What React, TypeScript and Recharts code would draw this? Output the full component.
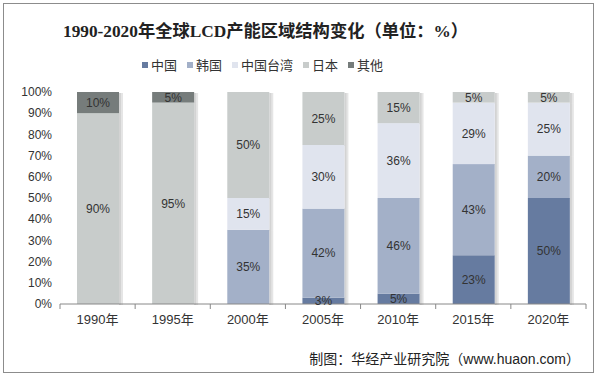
import { BarChart, Bar, XAxis, YAxis, LabelList } from 'recharts';

const years = ['1990年', '1995年', '2000年', '2005年', '2010年', '2015年', '2020年'];
const china = [0, 0, 0, 3, 5, 23, 50];
const korea = [0, 0, 35, 42, 46, 43, 20];
const taiwan = [0, 0, 15, 30, 36, 29, 25];
const japan = [90, 95, 50, 25, 15, 5, 5];
const others = [10, 5, 0, 0, 0, 0, 0];
const yTicks = [0, 0.1, 0.2, 0.3, 0.4, 0.5, 0.6, 0.7, 0.8, 0.9, 1];

const series = [
  { key: 'china', name: '中国', color: '#667ba0' },
  { key: 'korea', name: '韩国', color: '#a3b0c8' },
  { key: 'taiwan', name: '中国台湾', color: '#e0e4ee' },
  { key: 'japan', name: '日本', color: '#c8cccb' },
  { key: 'others', name: '其他', color: '#767c7b' },
];

const data = years.map((year, i) => ({
  year,
  china: china[i],
  korea: korea[i],
  taiwan: taiwan[i],
  japan: japan[i],
  others: others[i],
}));

const font = '"Liberation Sans", Arial, "Noto Sans CJK SC", sans-serif';

// bar segment with a soft shadow on its right side
function ShadowBar(props: any) {
  const { x, y, width, height, fill } = props;
  if (!height || height <= 0) return null;
  return (
    <g>
      <rect x={x + width} y={y + 1} width={4} height={height} fill="#000" opacity={0.1} />
      <rect x={x + width} y={y + 1} width={2} height={height} fill="#000" opacity={0.08} />
      <rect x={x} y={y} width={width} height={height} fill={fill} />
    </g>
  );
}

function XTick(props: any) {
  const { x, y, payload, index } = props;
  const half = payload.offset ?? 37.5;
  return (
    <g>
      <line x1={x - half} x2={x - half} y1={y - 8} y2={y - 3} stroke="#888" />
      {index === years.length - 1 && (
        <line x1={x + half} x2={x + half} y1={y - 8} y2={y - 3} stroke="#888" />
      )}
      <text x={x} y={y + 12} textAnchor="middle" fontSize={13} fill="#333" fontFamily={font}>
        {payload.value}
      </text>
    </g>
  );
}

const pct = (v: any) => (v ? `${v}%` : '');

export default function App() {
  return (
    <div style={{ position: 'absolute', left: 0, top: 0, width: 598, height: 377, background: '#fff' }}>
      <div
        style={{
          position: 'absolute',
          left: 3,
          top: 3,
          width: 589,
          height: 368,
          border: '1px solid #8c8c8c',
        }}
      />
      <div
        style={{
          position: 'absolute',
          left: 63,
          top: 17,
          fontFamily: '"Liberation Serif", "Noto Sans CJK SC", serif',
          fontWeight: 'bold',
          fontSize: 17.3,
          color: '#222',
          whiteSpace: 'nowrap',
        }}
      >
        1990-2020年全球LCD产能区域结构变化（单位：%）
      </div>
      <div
        style={{
          position: 'absolute',
          left: 142,
          top: 55,
          display: 'flex',
          fontFamily: font,
          fontSize: 13,
          color: '#333',
          whiteSpace: 'nowrap',
        }}
      >
        {series.map((s) => (
          <div key={s.key} style={{ display: 'flex', alignItems: 'center', marginRight: 10 }}>
            <span style={{ width: 6, height: 6, background: s.color, marginRight: 3, display: 'inline-block' }} />
            <span>{s.name}</span>
          </div>
        ))}
      </div>
      <BarChart
        width={598}
        height={377}
        data={data}
        stackOffset="expand"
        margin={{ top: 92, right: 12, bottom: 43, left: 0 }}
        style={{ position: 'absolute', left: 0, top: 0 }}
      >
        <XAxis
          dataKey="year"
          stroke="#888"
          tickLine={false}
          tick={<XTick />}
          height={30}
        />
        <YAxis
          domain={[0, 1]}
          ticks={yTicks}
          tickFormatter={(v: number) => `${Math.round(v * 100)}%`}
          axisLine={false}
          tickLine={false}
          width={60}
          tick={{ fontSize: 12, fill: '#333', fontFamily: font }}
          interval={0}
        />
        {series.map((s) => (
          <Bar
            key={s.key}
            dataKey={s.key}
            name={s.name}
            stackId="a"
            fill={s.color}
            barSize={42}
            shape={<ShadowBar />}
            isAnimationActive={false}
          >
            <LabelList
              dataKey={s.key}
              position="center"
              formatter={pct}
              fill="#333"
              fontSize={12}
              fontFamily={font}
            />
          </Bar>
        ))}
      </BarChart>
      <div
        style={{
          position: 'absolute',
          right: 18,
          top: 348,
          fontFamily: font,
          fontSize: 14,
          color: '#222',
          whiteSpace: 'nowrap',
        }}
      >
        制图：华经产业研究院（www.huaon.com）
      </div>
    </div>
  );
}
